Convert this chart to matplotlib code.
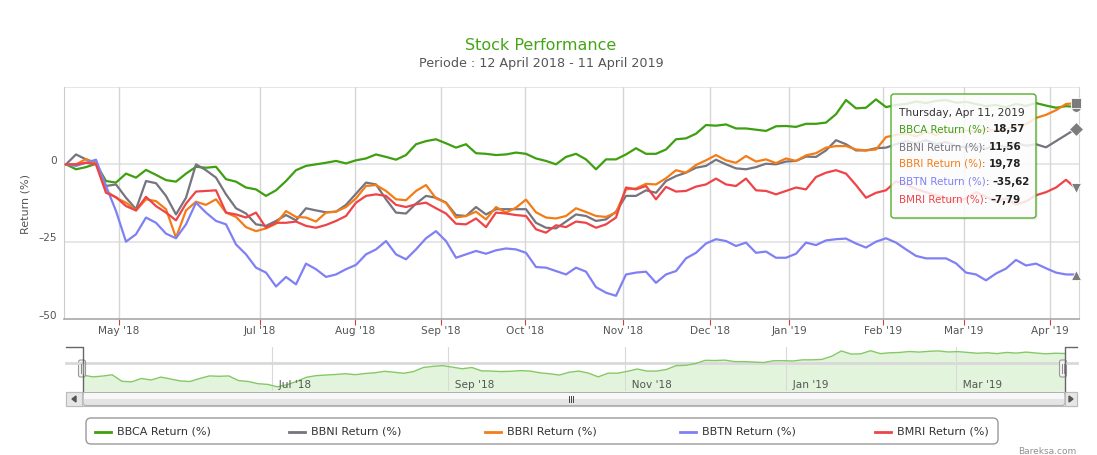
import numpy as np
import matplotlib
matplotlib.use("Agg")
import matplotlib.pyplot as plt
from matplotlib.patches import FancyBboxPatch, Rectangle, Polygon
from matplotlib.transforms import ScaledTranslation

W, H = 1097, 455

# Returns (%) sampled every ~2.5 trading days, 12 Apr 2018 -> 11 Apr 2019 (ordinal axis)
bbca = [0, -1.6, -0.9, 0.2, -5.4, -5.9, -3.0, -4.3, -1.8, -3.4, -5.1, -5.6, -3.0,
        -0.8, -1.1, -0.8, -4.8, -5.6, -7.5, -8.1, -10.2, -8.4, -5.4, -1.9, -0.5, 0.0,
        0.5, 1.1, 0.3, 1.3, 1.9, 3.2, 2.4, 1.5, 3.0, 6.5, 7.5, 8.1, 6.8,
        5.4, 6.5, 3.6, 3.4, 3.0, 3.2, 3.8, 3.4, 1.9, 1.1, 0.0, 2.4, 3.4,
        1.6, -1.6, 1.6, 1.6, 3.2, 5.2, 3.4, 3.4, 4.8, 8.1, 8.4, 9.9, 12.7,
        12.5, 12.9, 11.6, 11.6, 11.2, 10.8, 12.3, 12.4, 12.1, 13.1, 13.1, 13.5, 16.2,
        20.8, 18.1, 18.3, 21.0, 18.5, 19.2, 19.5, 20.3, 19.8, 20.5, 20.8, 19.9, 20.2,
        19.5, 18.8, 19.2, 18.5, 19.5, 18.9, 19.8, 19.0, 18.3, 18.8, 18.57]
bbni = [0, 3.2, 1.6, 0.5, -7.0, -6.5, -10.8, -14.5, -5.4, -6.1, -10.2, -16.2, -10.8,
        0.0, -1.9, -4.3, -9.7, -14.2, -15.9, -19.4, -19.9, -18.3, -16.4, -18.1, -14.2, -14.9,
        -15.5, -15.3, -13.1, -9.5, -5.9, -6.5, -11.3, -15.6, -15.9, -12.7, -10.2, -10.8, -12.4,
        -16.4, -16.7, -13.8, -16.2, -14.5, -14.5, -14.5, -14.5, -18.9, -20.5, -20.7, -18.5, -16.2,
        -16.7, -18.3, -17.8, -15.3, -10.2, -10.2, -8.4, -9.2, -5.4, -3.8, -2.7, -1.1, -0.5,
        1.5, 0.0, -1.3, -1.6, -0.9, 0.2, 0.0, 0.9, 1.1, 2.5, 2.4, 4.5, 7.8,
        6.5, 4.5, 4.5, 5.2, 5.4, 6.5, 7.5, 6.8, 7.8, 6.5, 7.2, 6.0, 5.5,
        6.0, 5.0, 6.5, 5.5, 7.0, 6.0, 6.5, 5.5, 7.5, 9.5, 11.56]
bbri = [0, 0, 1.7, 0.2, -8.6, -10.8, -12.4, -14.9, -11.3, -11.9, -14.5, -23.7, -14.9,
        -12.1, -13.1, -11.3, -15.6, -17.0, -20.3, -21.6, -20.7, -19.2, -15.1, -17.0, -17.2, -18.5,
        -15.6, -15.3, -13.8, -11.0, -7.0, -6.7, -8.6, -11.3, -11.6, -8.6, -6.7, -11.0, -12.4,
        -17.2, -16.7, -15.3, -17.8, -13.8, -15.6, -14.0, -11.4, -15.5, -17.2, -17.5, -16.7, -14.2,
        -15.4, -16.7, -17.0, -15.6, -8.1, -7.8, -6.3, -6.5, -4.5, -1.9, -2.7, -0.2, 1.3,
        3.0, 1.3, 0.5, 2.7, 0.9, 1.6, 0.4, 1.9, 1.1, 2.9, 3.6, 5.4, 5.9,
        5.9, 4.8, 4.5, 4.8, 8.8, 9.5, 10.0, 9.0, 10.5, 9.5, 11.0, 10.0, 11.0,
        10.5, 11.5, 10.8, 11.2, 12.5, 13.0, 15.0, 16.0, 17.5, 19.5, 19.78]
bbtn = [0, -0.5, 0.5, 1.5, -7.0, -15.1, -25.0, -22.6, -17.2, -18.9, -22.4, -23.9, -19.4,
        -12.4, -15.6, -18.3, -19.4, -25.9, -29.1, -33.4, -35.0, -39.5, -36.4, -38.8, -32.1, -33.9,
        -36.4, -35.6, -33.9, -32.5, -29.1, -27.5, -24.8, -29.1, -30.7, -27.5, -23.9, -21.6, -24.8,
        -30.2, -29.1, -28.0, -28.9, -27.8, -27.2, -27.5, -28.6, -33.2, -33.4, -34.5, -35.6, -33.4,
        -34.7, -39.7, -41.5, -42.5, -35.6, -35.0, -34.7, -38.3, -35.6, -34.5, -30.4, -28.6, -25.6,
        -24.2, -24.8, -26.4, -25.3, -28.6, -28.2, -30.2, -30.2, -28.9, -25.3, -26.1, -24.6, -24.2,
        -24.0, -25.6, -26.9, -25.0, -23.9, -25.3, -27.5, -29.6, -30.4, -30.4, -30.4, -32.0, -35.0,
        -35.6, -37.5, -35.3, -33.7, -30.9, -32.7, -32.1, -33.6, -35.0, -35.6, -35.62]
bmri = [0, 0, 0.5, 0, -9.2, -10.6, -13.5, -14.9, -10.5, -13.5, -15.6, -18.1, -12.7,
        -8.8, -8.6, -8.4, -15.6, -16.2, -17.2, -15.6, -20.5, -18.9, -18.9, -18.5, -19.9, -20.5,
        -19.6, -18.3, -16.7, -12.4, -10.2, -9.7, -10.2, -13.1, -13.8, -12.9, -12.4, -14.2, -15.9,
        -19.2, -19.4, -17.5, -20.3, -15.6, -15.9, -16.4, -16.7, -21.0, -22.1, -19.7, -20.3, -18.5,
        -18.9, -20.5, -19.4, -17.2, -7.5, -8.1, -7.0, -11.3, -7.3, -8.8, -8.6, -7.2, -6.5,
        -4.6, -6.5, -7.0, -4.6, -8.4, -8.6, -9.7, -8.6, -7.5, -8.1, -4.1, -2.7, -1.9,
        -3.0, -6.7, -10.8, -9.2, -8.4, -5.5, -6.5, -8.0, -9.0, -10.0, -11.0, -12.0, -11.0,
        -9.0, -10.5, -12.0, -11.0, -13.0, -12.0, -10.0, -9.0, -7.5, -5.0, -7.79]

names = ["BBCA Return (%)", "BBNI Return (%)", "BBRI Return (%)",
         "BBTN Return (%)", "BMRI Return (%)"]
series = [bbca, bbni, bbri, bbtn, bmri]
colors = ["#3e9f10", "#75747f", "#f47c16", "#8080f5", "#ee4449"]
end_markers = ["o", "D", "s", "^", "v"]

month_labels = ["May '18", "Jul '18", "Aug '18", "Sep '18", "Oct '18", "Nov '18",
                "Dec '18", "Jan '19", "Feb '19", "Mar '19", "Apr '19"]
month_pos = [5.3, 19.4, 28.9, 37.5, 45.9, 55.7, 64.4, 72.3, 81.7, 89.8, 98.4]
nav_labels = ["Jul '18", "Sep '18", "Nov '18", "Jan '19", "Mar '19"]
nav_pos = [19.4, 37.5, 55.7, 72.3, 89.8]

title = "Stock Performance"
subtitle = "Periode : 12 April 2018 - 11 April 2019"
tooltip_date = "Thursday, Apr 11, 2019"

TXT = "#555555"


def frame(l, t, r, b):
    return [l / W, 1 - b / H, (r - l) / W, (b - t) / H]


def fmt(v):
    return f"{v:.2f}".replace(".", ",").replace("-", "\u2013")


fig = plt.figure(figsize=(W / 100, H / 100), dpi=100)
fig.patch.set_facecolor("white")

# main plot
ax = fig.add_axes(frame(64, 87, 1079, 319))
x = np.arange(len(bbca))
ax.set_xlim(-0.2, 101.3)
ax.set_ylim(-50, 25)
for yv in (25, 0, -25):
    ax.axhline(yv, color="#e4e4e4", lw=1.3, zorder=0)
for xv in month_pos:
    ax.axvline(xv, color="#d6d6d6", lw=1.0, zorder=0)
for name, vals, c in zip(names, series, colors):
    ax.plot(x, vals, color=c, lw=1.6, solid_joinstyle="round", zorder=3)
for vals, m in zip(series, end_markers):
    ax.plot(x[-1], vals[-1], marker=m, color="#7c7c7c", markersize=7,
            markeredgecolor="white", markeredgewidth=0.6, clip_on=False, zorder=6)

ax.spines["top"].set_visible(False)
ax.spines["right"].set_color("#d6d6d6")
ax.spines["left"].set_color("#cccccc")
ax.spines["bottom"].set_color("#a8a8a8")
ax.spines["bottom"].set_linewidth(1.2)
ax.set_xticks(month_pos)
ax.set_xticklabels(month_labels)
ax.set_yticks([0, -25, -50])
ax.set_yticklabels(["0", "\u201325", "\u201350"])
ax.tick_params(axis="x", length=4, color="#d04040", labelsize=7.6, labelcolor=TXT, pad=1)
ax.tick_params(axis="y", length=0, labelsize=7.6, labelcolor=TXT, pad=5)
for lab in ax.get_yticklabels():
    lab.set_transform(lab.get_transform() + ScaledTranslation(0, 3 / 72, fig.dpi_scale_trans))

fig.text(25 / W, 1 - 204 / H, "Return (%)", rotation=90, ha="center", va="center",
         fontsize=8, color=TXT)
fig.text(541 / W, 1 - 45 / H, title, ha="center", va="center", fontsize=11.5,
         color="#44a516")
fig.text(541 / W, 1 - 63 / H, subtitle, ha="center", va="center", fontsize=9.2,
         color=TXT)

# navigator
nav = fig.add_axes(frame(83, 347, 1065, 391))
nav.set_xlim(0, 101)
nav.set_ylim(-13.8, 24.2)
nav.fill_between(x, bbca, -13.8, color="#e3f4dc", lw=0, zorder=1)
nav.axhline(10.4, color="#d9d9d9", lw=2, zorder=1.5)
nav.plot(x, bbca, color="#85c866", lw=1.0, zorder=2)
for xv, lab in zip(nav_pos, nav_labels):
    nav.axvline(xv, color="#d9d9d9", lw=0.8, zorder=1.2)
    nav.text(xv, -8.5, "  " + lab, ha="left", va="center", fontsize=7.6, color=TXT, zorder=3)
nav.axis("off")

# overlay in pixel coordinates
ov = fig.add_axes([0, 0, 1, 1], zorder=10)
ov.set_xlim(0, W)
ov.set_ylim(H, 0)
ov.axis("off")

# navigator band outside the plot width and outline
ov.plot([66, 83], [363, 363], lw=2, color="#d9d9d9")
ov.plot([1065, 1077], [363, 363], lw=2, color="#d9d9d9")
ov.plot([66, 83, 83], [347, 347, 391], color="#666666", lw=1)
ov.plot([1077, 1065, 1065], [347, 347, 391], color="#666666", lw=1)
for hx in (82, 1063):
    ov.add_patch(FancyBboxPatch((hx - 3.5, 360), 7, 17, boxstyle="round,pad=0,rounding_size=2",
                                facecolor="#f2f2f2", edgecolor="#999999", lw=0.8))
    ov.plot([hx - 1, hx - 1], [364, 373], color="#888888", lw=0.7)
    ov.plot([hx + 1, hx + 1], [364, 373], color="#888888", lw=0.7)

# scrollbar
ov.add_patch(Rectangle((66, 392), 1011, 14, facecolor="#eeeeee", edgecolor="#bbbbbb", lw=0.8))
ov.add_patch(FancyBboxPatch((83, 392.5), 982, 13, boxstyle="round,pad=0,rounding_size=3",
                            facecolor="#e4e4e4", edgecolor="#b0b0b0", lw=0.8))
ov.add_patch(Rectangle((84, 393), 980, 6, facecolor="#f7f7f7", lw=0))
for bx in (66, 1065):
    ov.add_patch(Rectangle((bx, 392), 12 if bx > 500 else 16, 14, facecolor="#e6e6e6",
                           edgecolor="#bbbbbb", lw=0.8))
ov.add_patch(Polygon([[76, 396], [76, 402], [72, 399]], closed=True, color="#555555"))
ov.add_patch(Polygon([[1069, 396], [1069, 402], [1073, 399]], closed=True, color="#555555"))
for gx in (569, 571, 573):
    ov.plot([gx, gx], [396, 402], color="#444444", lw=0.7)

# legend
ov.add_patch(FancyBboxPatch((86, 418), 912, 26, boxstyle="round,pad=0,rounding_size=5",
                            facecolor="white", edgecolor="#9a9a9a", lw=1))
leg_x = [95, 289, 485, 680, 875]
for lx, name, c in zip(leg_x, names, colors):
    ov.plot([lx, lx + 16], [432, 432], color=c, lw=2)
    ov.text(lx + 22, 432, name, ha="left", va="center", fontsize=8, color="#333333")

ov.text(1076, 451, "Bareksa.com", ha="right", va="center", fontsize=6.5, color="#909090")

# tooltip
ov.add_patch(FancyBboxPatch((893, 96), 145, 124, boxstyle="round,pad=0,rounding_size=3",
                            facecolor="#000000", alpha=0.06, lw=0))
ov.add_patch(FancyBboxPatch((891, 94), 145, 124, boxstyle="round,pad=0,rounding_size=3",
                            facecolor="white", alpha=0.85, edgecolor="none"))
ov.add_patch(FancyBboxPatch((891, 94), 145, 124, boxstyle="round,pad=0,rounding_size=3",
                            facecolor="none", edgecolor="#52b027", lw=1))
ov.text(899, 113, tooltip_date, ha="left", va="center", fontsize=7.7, color="#333333")
renderer = fig.canvas.get_renderer()
row_y = [129, 147, 164, 182, 200]
for ry, name, vals, c in zip(row_y, names, series, colors):
    t = ov.text(899, ry, name, ha="left", va="center", fontsize=7.4, color=c)
    w1 = t.get_window_extent(renderer).width
    t2 = ov.text(899 + w1, ry, ": ", ha="left", va="center", fontsize=7.4, color="#333333")
    w2 = t2.get_window_extent(renderer).width
    ov.text(899 + w1 + w2, ry, fmt(vals[-1]), ha="left", va="center", fontsize=7.4,
            color="#222222", fontweight="bold")

fig.savefig("out.png", dpi=100)
